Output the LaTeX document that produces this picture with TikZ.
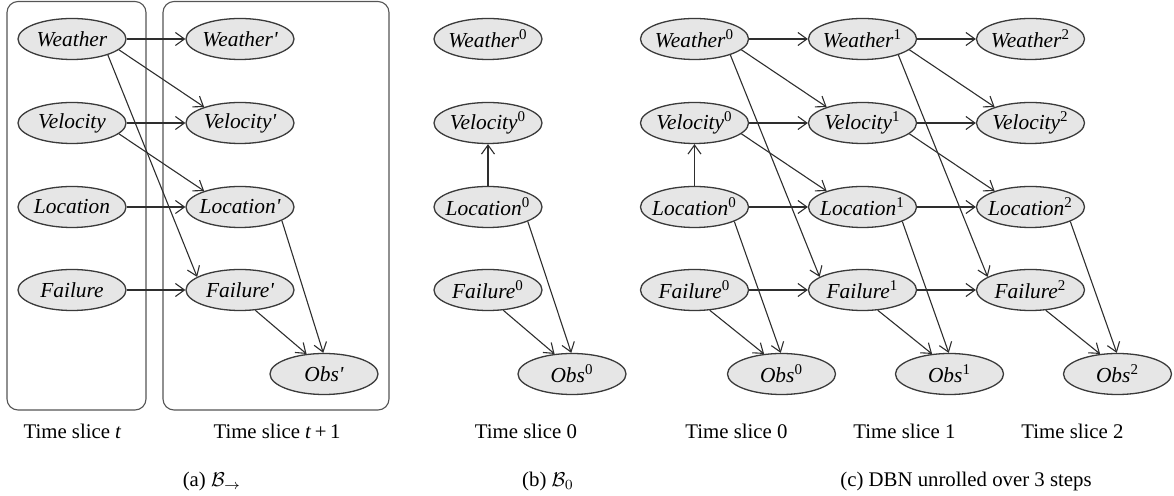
\documentclass[tikz,border=0pt]{standalone}
\usepackage{fontspec}
\setmainfont{Liberation Serif}
\usetikzlibrary{shapes.geometric,arrows.meta}
\definecolor{nodefill}{HTML}{E6E6E6}
\definecolor{nodeline}{HTML}{3A3A3A}
\definecolor{edgecol}{HTML}{2E2E2E}
\definecolor{boxcol}{HTML}{555555}
\begin{document}
\begin{tikzpicture}[x=0.5pt,y=-0.5pt,
  var/.style={ellipse, draw=nodeline, fill=nodefill, line width=0.65pt,
    minimum width=54pt, minimum height=20.5pt, inner xsep=-8pt, inner ysep=0pt,
    font=\fontsize{10.7pt}{12pt}\selectfont\itshape},
  edge/.style={draw=edgecol, line width=0.55pt,
    -{Straight Barb[length=4.5pt,width=6.5pt,line width=0.55pt]}},
  slicebox/.style={draw=boxcol, line width=0.55pt, rounded corners=5.5pt},
  lab/.style={font=\fontsize{10.4pt}{12pt}\selectfont, inner sep=0pt}]
\useasboundingbox (0,0) rectangle (1174,496);
\newcommand{\pr}{\textquotesingle}
\newcommand{\sps}[1]{\textsuperscript{\upshape #1}}
% ---------- panel (a)
\draw[slicebox] (7,1.5) rectangle (146,410);
\draw[slicebox] (163,1.5) rectangle (389,410);
\node[var] (aW) at (72,39) {Weather};
\node[var] (aV) at (72,123) {Velocity};
\node[var] (aL) at (72,207) {Location};
\node[var] (aF) at (72,290) {Failure};
\node[var] (aW2) at (240,39) {Weather\pr};
\node[var] (aV2) at (240,123) {Velocity\pr};
\node[var] (aL2) at (240,207) {Location\pr};
\node[var] (aF2) at (240,290) {Failure\pr};
\node[var] (aO2) at (324,374) {Obs\pr};
\draw[edge] (aW) -- (aW2);
\draw[edge] (aW.-13) -- (aV2.156);
\draw[edge] (aW.-24) -- (aF2.163);
\draw[edge] (aV) -- (aV2);
\draw[edge] (aV.-13) -- (aL2.156);
\draw[edge] (aL) -- (aL2);
\draw[edge] (aF) -- (aF2);
\draw[edge] (aL2.-18) -- (aO2.92);
\draw[edge] (aF2.-53) -- (aO2.131);
\node[lab] (aT1) at (72.5,431) {Time slice \textit{t}};
\node[lab] (aT2) at (277,431) {Time slice \textit{t}\,+\,1};
\node[lab] (aCap) at (212,482) {(a) $\mathcal{B}_{\rightarrow}$};
% ---------- panel (b)
\node[var] (bW) at (488,39) {Weather\sps{0}};
\node[var] (bV) at (488,123) {Velocity\sps{0}};
\node[var] (bL) at (488,207) {Location\sps{0}};
\node[var] (bF) at (488,290) {Failure\sps{0}};
\node[var] (bO) at (572,374) {Obs\sps{0}};
\draw[edge] (bL) -- (bV);
\draw[edge] (bL.-20) -- (bO.92);
\draw[edge] (bF.-53) -- (bO.131);
\node[lab] (bT) at (526,431) {Time slice 0};
\node[lab] (bCap) at (548,482) {(b) $\mathcal{B}_0$};
% ---------- panel (c)
\foreach \t/\x in {0/694.5,1/862.5,2/1030.5}{
  \node[var] (cW\t) at (\x,39) {Weather\sps{\t}};
  \node[var] (cV\t) at (\x,123) {Velocity\sps{\t}};
  \node[var] (cL\t) at (\x,207) {Location\sps{\t}};
  \node[var] (cF\t) at (\x,290) {Failure\sps{\t}};
  \node[var] (cO\t) at (\x+87,374) {Obs\sps{\t}};
  \draw[edge] (cL\t.-20) -- (cO\t.92);
  \draw[edge] (cF\t.-53) -- (cO\t.131);
  \node[lab] (cT\t) at (\x+42,431) {Time slice \t};
}
\draw[edge] (cL0) -- (cV0);
\foreach \t/\u in {0/1,1/2}{
  \draw[edge] (cW\t) -- (cW\u);
  \draw[edge] (cW\t.-13) -- (cV\u.156);
  \draw[edge] (cW\t.-24) -- (cF\u.163);
  \draw[edge] (cV\t) -- (cV\u);
  \draw[edge] (cV\t.-13) -- (cL\u.156);
  \draw[edge] (cL\t) -- (cL\u);
  \draw[edge] (cF\t) -- (cF\u);
}
\node[lab] (cCap) at (966,482) {(c) DBN unrolled over 3 steps};
\end{tikzpicture}
\end{document}
